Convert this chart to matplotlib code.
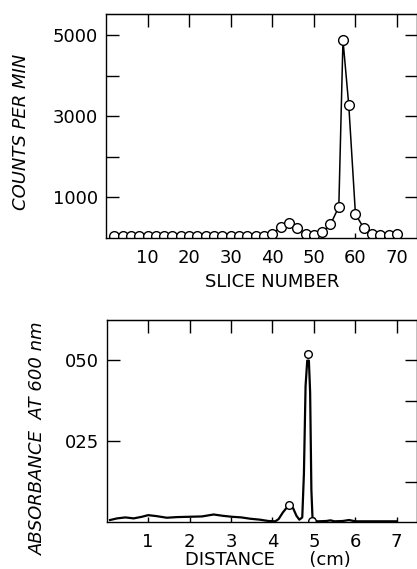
import matplotlib
matplotlib.use("Agg")
import matplotlib.pyplot as plt

# top panel: counts per slice
slice_no = [2, 4, 6, 8, 10, 12, 14, 16, 18, 20, 22, 24, 26, 28, 30, 32, 34, 36, 38, 40,
            42, 44, 46, 48, 50, 52, 54, 56, 57, 58.4, 60, 62, 64, 66, 68, 70]
counts = [50, 50, 50, 50, 50, 50, 50, 50, 50, 50, 50, 50, 50, 50, 50, 50, 50, 50, 60, 90,
          275, 370, 235, 110, 70, 140, 335, 770, 4885, 3270, 590, 245, 95, 70, 70, 95]
count_ticks = [1000, 2000, 3000, 4000, 5000]
count_labels = ["1000", "", "3000", "", "5000"]
slice_ticks = [10, 20, 30, 40, 50, 60, 70]

# bottom panel: absorbance trace
dist = [0.08, 0.25, 0.45, 0.65, 0.85, 1.0, 1.2, 1.45, 1.7, 2.0, 2.3, 2.58, 2.8, 3.02,
        3.25, 3.46, 3.7, 3.9, 4.07, 4.15, 4.25, 4.35, 4.42, 4.5, 4.58, 4.65, 4.72, 4.76,
        4.8, 4.84, 4.88, 4.91, 4.94, 4.97, 5.1, 5.3, 5.4, 5.5, 5.7, 5.85, 6.0, 6.5, 7.0]
absorb = [0.007, 0.012, 0.015, 0.012, 0.017, 0.022, 0.019, 0.014, 0.016, 0.017, 0.018,
          0.024, 0.020, 0.017, 0.015, 0.011, 0.008, 0.004, 0.003, 0.010, 0.030, 0.046,
          0.050, 0.043, 0.020, 0.008, 0.015, 0.150, 0.420, 0.498, 0.498, 0.400, 0.100,
          0.005, 0.003, 0.004, 0.006, 0.003, 0.004, 0.007, 0.003, 0.003, 0.003]
mark_dist = [4.41, 4.86, 4.96]
mark_abs = [0.053, 0.517, 0.005]
abs_ticks = [0.25, 0.50]
abs_labels = ["025", "050"]
abs_minor = [0.125, 0.25, 0.375, 0.50]
dist_ticks = [1, 2, 3, 4, 5, 6, 7]

plt.rcParams['font.family'] = 'DejaVu Sans'
fs = 13

fig = plt.figure(figsize=(4.17, 5.69), dpi=100)

def px(v):
    return v * 0.72

def style(ax, xt, yt, ylab, yt_right):
    for s in ax.spines.values():
        s.set_linewidth(1.0)
    ax.set_xticks(xt)
    ax.set_xticklabels([str(t) for t in xt])
    ax.set_yticks(yt)
    ax.set_yticklabels(ylab)
    ax.tick_params(axis='x', direction='in', length=px(5), width=1, pad=px(11), labelsize=fs)
    ax.tick_params(axis='y', direction='in', length=px(13), width=1, pad=px(8), labelsize=fs)
    top = ax.secondary_xaxis('top')
    top.set_xticks(xt)
    top.tick_params(direction='in', length=px(13), width=1, labeltop=False)
    right = ax.secondary_yaxis('right')
    right.set_yticks(yt_right)
    right.tick_params(direction='in', length=px(12), width=1, labelright=False)

# top panel
ax1 = fig.add_axes([0.254, 0.5817, 0.745, 0.3932])
ax1.plot(slice_no, counts, color='black', lw=1.1, marker='o', ms=7.0,
         mfc='white', mec='black', mew=1.0)
ax1.set_xlim(0, 74.7)
ax1.set_ylim(0, 5520)
style(ax1, slice_ticks, count_ticks, count_labels, count_ticks)
ax1.text(0.535, -0.195, "SLICE NUMBER", transform=ax1.transAxes, ha='center', va='center',
         fontsize=fs)
ax1.text(-0.272, 0.475, "COUNTS PER MIN", transform=ax1.transAxes, ha='center', va='center',
         rotation=90, fontsize=fs, style='italic')

# bottom panel
ax2 = fig.add_axes([0.256, 0.0821, 0.743, 0.3555])
ax2.plot(dist, absorb, color='black', lw=1.6)
ax2.plot(mark_dist, mark_abs, ls='none', marker='o', ms=5.5, mfc='white',
         mec='black', mew=1.0)
ax2.set_xlim(0, 7.48)
ax2.set_ylim(0, 0.623)
style(ax2, dist_ticks, abs_ticks, abs_labels, abs_minor)
ax2.text(0.519, -0.186, "DISTANCE      (cm)", transform=ax2.transAxes, ha='center',
         va='center', fontsize=fs)
ax2.text(-0.222, 0.417, "ABSORBANCE  AT 600 nm", transform=ax2.transAxes, ha='center',
         va='center', rotation=90, fontsize=fs, style='italic')

fig.savefig('out.png', dpi=100)
